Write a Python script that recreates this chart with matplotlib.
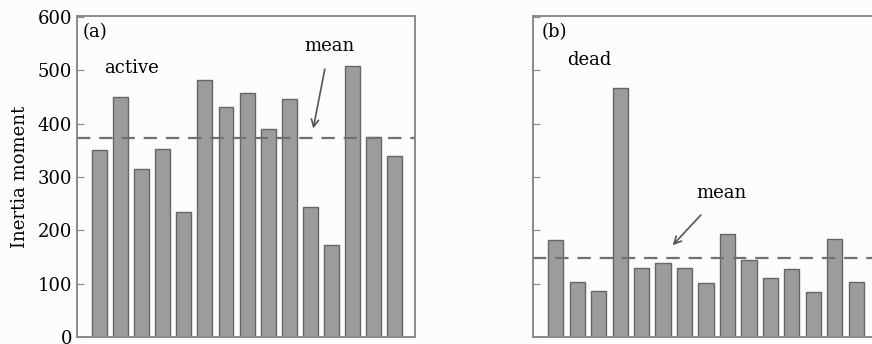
import numpy as np
import matplotlib
matplotlib.use("Agg")
from matplotlib import pyplot as plt

# bar heights
active = [350, 450, 315, 353, 234, 482, 432, 458, 391, 446, 243, 172, 509, 375, 340]
dead = [182, 104, 87, 467, 130, 139, 130, 102, 194, 144, 110, 127, 84, 183, 104]
active_mean = 373
dead_mean = 149
yticks = [0, 100, 200, 300, 400, 500, 600]

plt.rcParams['font.family'] = ['DejaVu Serif']

bar_face = '#9c9c9c'
bar_edge = '#666666'
spine_col = '#8a8a8a'

fig = plt.figure(figsize=(8.72, 3.44), dpi=100)
fig.patch.set_facecolor('#fcfcfc')

ax_a = fig.add_axes([77 / 872, 1 - 337 / 344, 338 / 872, 321 / 344])
ax_b = fig.add_axes([533 / 872, 1 - 337 / 344, 344 / 872, 321 / 344])


def draw_panel(ax, values, mean, xlim):
    x = np.arange(len(values))
    ax.bar(x, values, width=0.71, color=bar_face, edgecolor=bar_edge, linewidth=1.0)
    ax.axhline(mean, color='#707070', linestyle=(0, (6, 4)), linewidth=1.6)
    ax.set_xlim(*xlim)
    ax.set_ylim(0, 602)
    ax.set_xticks([])
    ax.set_yticks(yticks)
    ax.tick_params(axis='y', direction='in', length=5, color=spine_col)
    ax.set_facecolor('#fcfcfc')
    for s in ax.spines.values():
        s.set_color(spine_col)
        s.set_linewidth(1.4)


draw_panel(ax_a, active, active_mean, (-1.07, 14.97))
ax_a.set_yticklabels([str(v) for v in yticks], fontsize=13)
ax_a.set_ylabel('Inertia moment', fontsize=13, labelpad=6)
ax_a.text(-0.8, 571, '(a)', fontsize=13, va='center', ha='left')
ax_a.text(0.21, 505, 'active', fontsize=13, va='center', ha='left')
ax_a.annotate('mean', xy=(10.14, 391), xytext=(10.9, 545), fontsize=13,
              ha='center', va='center',
              arrowprops=dict(arrowstyle='->', color='#555555', lw=1.2,
                              shrinkA=8, shrinkB=0))

draw_panel(ax_b, dead, dead_mean, (-1.06, 14.97))
ax_b.set_yticklabels([])
ax_b.text(-0.66, 571, '(b)', fontsize=13, va='center', ha='left')
ax_b.text(0.55, 520, 'dead', fontsize=13, va='center', ha='left')
ax_b.annotate('mean', xy=(5.45, 172), xytext=(7.71, 270), fontsize=13,
              ha='center', va='center',
              arrowprops=dict(arrowstyle='->', color='#555555', lw=1.2,
                              shrinkA=10, shrinkB=0))

fig.savefig('out.png', dpi=100, facecolor=fig.get_facecolor())
